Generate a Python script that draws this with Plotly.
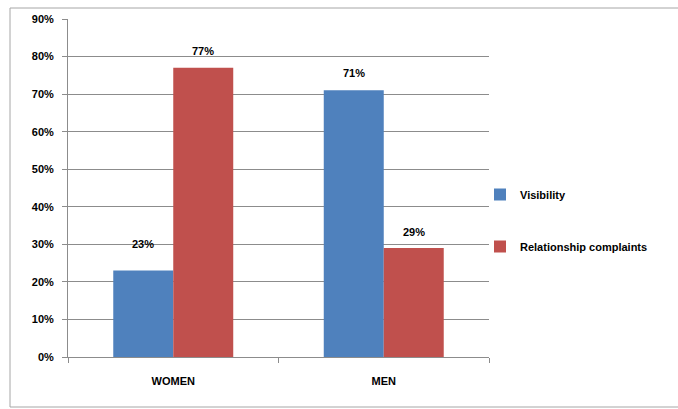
import plotly.graph_objects as go

categories = ["WOMEN", "MEN"]
visibility = [0.23, 0.71]
relationship = [0.77, 0.29]
series_names = ["Visibility", "Relationship complaints"]
y_ticks = [0, 0.1, 0.2, 0.3, 0.4, 0.5, 0.6, 0.7, 0.8, 0.9]

BLUE = "#4F81BD"
RED = "#C0504D"
GRID = "#8C8C8C"
FAMILY = "Liberation Sans, Arial, sans-serif"
FONT = dict(family=FAMILY, size=11, color="#000000", weight="bold")

fig = go.Figure()
fig.add_trace(go.Bar(x=categories, y=visibility, name=series_names[0],
                     marker=dict(color=BLUE, line=dict(width=0)), legendgroup="a"))
fig.add_trace(go.Bar(x=categories, y=relationship, name=series_names[1],
                     marker=dict(color=RED, line=dict(width=0)), legendgroup="b"))

# data labels; pixel offsets are styling, kept apart from the data
label_xshift = [-30, 30]
label_yshift = [[27, 17], [17, 16]]
for si, vals in enumerate([visibility, relationship]):
    for ci, v in enumerate(vals):
        fig.add_annotation(x=categories[ci], y=v, xref="x", yref="y",
                           text=f"{round(v * 100)}%", showarrow=False,
                           xshift=label_xshift[si], yshift=label_yshift[si][ci],
                           font=FONT)

W, H = 678, 409
L, R, T, B = 68, 678 - 489, 19, 409 - 357
pw, ph = W - L - R, H - T - B

fig.add_shape(type="rect", xref="paper", yref="paper",
              x0=(10 - L) / pw, x1=(690 - L) / pw,
              y0=(H - B - 407) / ph, y1=(H - B - 8) / ph,
              line=dict(color="#A6A6A6", width=1), fillcolor="rgba(0,0,0,0)", layer="below")

fig.update_layout(
    width=W, height=H,
    margin=dict(l=L, r=R, t=T, b=B, pad=0),
    paper_bgcolor="white", plot_bgcolor="white",
    barmode="group", bargap=0.43, bargroupgap=0,
    font=FONT,
    showlegend=True,
    legend=dict(x=(480 - L) / pw, xanchor="left", y=(H - B - 180) / ph, yanchor="top",
                traceorder="grouped", tracegroupgap=33,
                font=FONT, bgcolor="rgba(0,0,0,0)", borderwidth=0),
    xaxis=dict(showline=True, linecolor=GRID, linewidth=1, ticks="outside", tickson="boundaries",
               ticklen=5, tickcolor=GRID, showgrid=False, ticklabelstandoff=14,
               tickfont=FONT),
    yaxis=dict(range=[0, 0.9], tickvals=y_ticks, tickformat=".0%", showline=True, linecolor=GRID,
               linewidth=1, ticks="outside", ticklen=5, tickcolor=GRID, showgrid=True,
               gridcolor=GRID, gridwidth=1, zeroline=False, ticklabelstandoff=6, tickfont=FONT),
)

fig.write_html("out.html")
